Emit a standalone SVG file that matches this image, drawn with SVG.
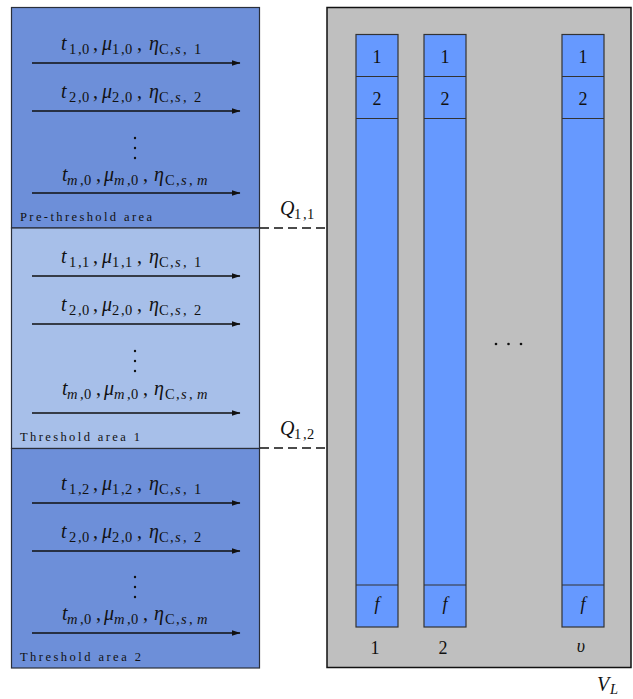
<svg xmlns="http://www.w3.org/2000/svg" width="633" height="699" viewBox="0 0 633 699">
  <style>
    .band-dark { fill: #6d8fd9; stroke: #2a2f3a; stroke-width: 1.2; }
    .band-light { fill: #a7bfe9; stroke: #2a2f3a; stroke-width: 1.2; }
    .store { fill: #bfbfbf; stroke: #111; stroke-width: 1.5; }
    .col { fill: #6699ff; stroke: #333; stroke-width: 1.2; }
    .div { stroke: #333; stroke-width: 1.2; }
    .m { font-family: "Liberation Serif", "DejaVu Serif", serif; font-size: 20px; fill: #111; }
    .i { font-style: italic; }
    .s { font-size: 14.5px; }
    .lbl { font-family: "Liberation Serif", "DejaVu Serif", serif; font-size: 12.5px; fill: #111; }
    .num { font-family: "Liberation Serif", "DejaVu Serif", serif; font-size: 18px; fill: #111; text-anchor: middle; }
    .flow { stroke: #111; stroke-width: 1.3; fill: none; marker-end: url(#head); }
    .dash { stroke: #111; stroke-width: 1.6; stroke-dasharray: 9 5; fill: none; }
  </style>
  <defs>
    <marker id="head" markerWidth="9" markerHeight="6" refX="8.5" refY="3" orient="auto" markerUnits="userSpaceOnUse">
      <path d="M0,0 L9,3 L0,6 Z" fill="#111"/>
    </marker>
  </defs>

  <!-- left panel: three areas -->
  <g id="pre-threshold">
    <rect class="band-dark" x="11.5" y="7.5" width="248" height="220.5"/>
    <text class="lbl" x="20" y="221" textLength="132" lengthAdjust="spacing">Pre-threshold area</text>
  </g>
  <g id="threshold-1">
    <rect class="band-light" x="11.5" y="228" width="248" height="220.5"/>
    <text class="lbl" x="20" y="441" textLength="120" lengthAdjust="spacing">Threshold area 1</text>
  </g>
  <g id="threshold-2">
    <rect class="band-dark" x="11.5" y="448.5" width="248" height="219.5"/>
    <text class="lbl" x="20" y="661" textLength="121" lengthAdjust="spacing">Threshold area 2</text>
  </g>

  <!-- storage: columns of cells -->
  <g id="storage">
    <rect class="store" x="327" y="7.5" width="304" height="660"/>
  </g>
  <g id="column-1">
    <rect class="col" x="356" y="34.5" width="42" height="592.5"/>
    <line class="div" x1="356" y1="76.5" x2="398" y2="76.5"/>
    <line class="div" x1="356" y1="118.5" x2="398" y2="118.5"/>
    <line class="div" x1="356" y1="585" x2="398" y2="585"/>
    <text class="num" x="377" y="63">1</text>
    <text class="num" x="377" y="105">2</text>
    <text class="num i" x="377" y="610">f</text>
    <text class="num" x="375" y="654">1</text>
  </g>
  <g id="column-2">
    <rect class="col" x="424" y="34.5" width="42" height="592.5"/>
    <line class="div" x1="424" y1="76.5" x2="466" y2="76.5"/>
    <line class="div" x1="424" y1="118.5" x2="466" y2="118.5"/>
    <line class="div" x1="424" y1="585" x2="466" y2="585"/>
    <text class="num" x="445" y="63">1</text>
    <text class="num" x="445" y="105">2</text>
    <text class="num i" x="445" y="610">f</text>
    <text class="num" x="443" y="654">2</text>
  </g>
  <g id="column-v">
    <rect class="col" x="562" y="34.5" width="42" height="592.5"/>
    <line class="div" x1="562" y1="76.5" x2="604" y2="76.5"/>
    <line class="div" x1="562" y1="118.5" x2="604" y2="118.5"/>
    <line class="div" x1="562" y1="585" x2="604" y2="585"/>
    <text class="num" x="583" y="63">1</text>
    <text class="num" x="583" y="105">2</text>
    <text class="num i" x="583" y="610">f</text>
    <text class="num i" x="581" y="652">υ</text>
  </g>
  <g id="column-ellipsis" fill="#111">
    <circle cx="496" cy="344" r="1.3"/>
    <circle cx="508.5" cy="344" r="1.3"/>
    <circle cx="521" cy="344" r="1.3"/>
  </g>
  <g id="storage-label">
    <text class="m" y="691"><tspan class="i" x="597">V</tspan><tspan class="s i" x="610" dy="3">L</tspan></text>
  </g>

  <!-- flow labels -->
  <g id="labels-pre">
    <text class="m" y="50"><tspan class="i" x="61">t</tspan><tspan class="s" x="69 78 82" dy="3.5">1,0</tspan><tspan x="93" dy="-3.5">,</tspan><tspan class="i" x="102">μ</tspan><tspan class="s" x="112 121 125" dy="3.5">1,0</tspan><tspan x="137" dy="-3.5">,</tspan><tspan class="i" x="149">η</tspan><tspan class="s" x="159 170" dy="3.5">C,</tspan><tspan class="s i" x="175">s</tspan><tspan class="s" x="183 194">,1</tspan></text>
    <text class="m" y="98"><tspan class="i" x="61">t</tspan><tspan class="s" x="69 78 82" dy="3.5">2,0</tspan><tspan x="93" dy="-3.5">,</tspan><tspan class="i" x="102">μ</tspan><tspan class="s" x="112 121 125" dy="3.5">2,0</tspan><tspan x="137" dy="-3.5">,</tspan><tspan class="i" x="149">η</tspan><tspan class="s" x="159 170" dy="3.5">C,</tspan><tspan class="s i" x="175">s</tspan><tspan class="s" x="183 194">,2</tspan></text>
    <g fill="#111"><circle cx="135" cy="138" r="1.2"/><circle cx="135" cy="148" r="1.2"/><circle cx="135" cy="158" r="1.2"/></g>
    <text class="m" y="181"><tspan class="i" x="62">t</tspan><tspan class="s i" x="67" dy="3.5">m</tspan><tspan class="s" x="80 84">,0</tspan><tspan x="96" dy="-3.5">,</tspan><tspan class="i" x="104">μ</tspan><tspan class="s i" x="114" dy="3.5">m</tspan><tspan class="s" x="127 131">,0</tspan><tspan x="143" dy="-3.5">,</tspan><tspan class="i" x="154">η</tspan><tspan class="s" x="165 176" dy="3.5">C,</tspan><tspan class="s i" x="181">s</tspan><tspan class="s" x="189">,</tspan><tspan class="s i" x="197">m</tspan></text>
  </g>
  <g id="labels-t1">
    <text class="m" y="263"><tspan class="i" x="61">t</tspan><tspan class="s" x="69 78 82" dy="3.5">1,1</tspan><tspan x="93" dy="-3.5">,</tspan><tspan class="i" x="102">μ</tspan><tspan class="s" x="112 121 125" dy="3.5">1,1</tspan><tspan x="137" dy="-3.5">,</tspan><tspan class="i" x="149">η</tspan><tspan class="s" x="159 170" dy="3.5">C,</tspan><tspan class="s i" x="175">s</tspan><tspan class="s" x="183 194">,1</tspan></text>
    <text class="m" y="311"><tspan class="i" x="61">t</tspan><tspan class="s" x="69 78 82" dy="3.5">2,0</tspan><tspan x="93" dy="-3.5">,</tspan><tspan class="i" x="102">μ</tspan><tspan class="s" x="112 121 125" dy="3.5">2,0</tspan><tspan x="137" dy="-3.5">,</tspan><tspan class="i" x="149">η</tspan><tspan class="s" x="159 170" dy="3.5">C,</tspan><tspan class="s i" x="175">s</tspan><tspan class="s" x="183 194">,2</tspan></text>
    <g fill="#111"><circle cx="135" cy="351" r="1.2"/><circle cx="135" cy="361" r="1.2"/><circle cx="135" cy="371" r="1.2"/></g>
    <text class="m" y="395"><tspan class="i" x="62">t</tspan><tspan class="s i" x="67" dy="3.5">m</tspan><tspan class="s" x="80 84">,0</tspan><tspan x="96" dy="-3.5">,</tspan><tspan class="i" x="104">μ</tspan><tspan class="s i" x="114" dy="3.5">m</tspan><tspan class="s" x="127 131">,0</tspan><tspan x="143" dy="-3.5">,</tspan><tspan class="i" x="154">η</tspan><tspan class="s" x="165 176" dy="3.5">C,</tspan><tspan class="s i" x="181">s</tspan><tspan class="s" x="189">,</tspan><tspan class="s i" x="197">m</tspan></text>
  </g>
  <g id="labels-t2">
    <text class="m" y="490"><tspan class="i" x="61">t</tspan><tspan class="s" x="69 78 82" dy="3.5">1,2</tspan><tspan x="93" dy="-3.5">,</tspan><tspan class="i" x="102">μ</tspan><tspan class="s" x="112 121 125" dy="3.5">1,2</tspan><tspan x="137" dy="-3.5">,</tspan><tspan class="i" x="149">η</tspan><tspan class="s" x="159 170" dy="3.5">C,</tspan><tspan class="s i" x="175">s</tspan><tspan class="s" x="183 194">,1</tspan></text>
    <text class="m" y="538"><tspan class="i" x="61">t</tspan><tspan class="s" x="69 78 82" dy="3.5">2,0</tspan><tspan x="93" dy="-3.5">,</tspan><tspan class="i" x="102">μ</tspan><tspan class="s" x="112 121 125" dy="3.5">2,0</tspan><tspan x="137" dy="-3.5">,</tspan><tspan class="i" x="149">η</tspan><tspan class="s" x="159 170" dy="3.5">C,</tspan><tspan class="s i" x="175">s</tspan><tspan class="s" x="183 194">,2</tspan></text>
    <g fill="#111"><circle cx="135" cy="577" r="1.2"/><circle cx="135" cy="587" r="1.2"/><circle cx="135" cy="597" r="1.2"/></g>
    <text class="m" y="620"><tspan class="i" x="62">t</tspan><tspan class="s i" x="67" dy="3.5">m</tspan><tspan class="s" x="80 84">,0</tspan><tspan x="96" dy="-3.5">,</tspan><tspan class="i" x="104">μ</tspan><tspan class="s i" x="114" dy="3.5">m</tspan><tspan class="s" x="127 131">,0</tspan><tspan x="143" dy="-3.5">,</tspan><tspan class="i" x="154">η</tspan><tspan class="s" x="165 176" dy="3.5">C,</tspan><tspan class="s i" x="181">s</tspan><tspan class="s" x="189">,</tspan><tspan class="s i" x="197">m</tspan></text>
  </g>
  <g id="threshold-labels">
    <text class="m" y="215"><tspan class="i" x="280">Q</tspan><tspan class="s" x="294 303 307" dy="3.5">1,1</tspan></text>
    <text class="m" y="435"><tspan class="i" x="280">Q</tspan><tspan class="s" x="294 303 307" dy="3.5">1,2</tspan></text>
  </g>

  <!-- connectors -->
  <g id="connectors">
    <line class="flow" x1="32" y1="63" x2="240" y2="63"/>
    <line class="flow" x1="32" y1="111" x2="240" y2="111"/>
    <line class="flow" x1="32" y1="193" x2="240" y2="193"/>
    <line class="flow" x1="32" y1="276" x2="240" y2="276"/>
    <line class="flow" x1="32" y1="324" x2="240" y2="324"/>
    <line class="flow" x1="32" y1="413" x2="240" y2="413"/>
    <line class="flow" x1="32" y1="503" x2="240" y2="503"/>
    <line class="flow" x1="32" y1="551" x2="240" y2="551"/>
    <line class="flow" x1="32" y1="633" x2="240" y2="633"/>
    <line class="dash" x1="260" y1="228" x2="327" y2="228"/>
    <line class="dash" x1="260" y1="448" x2="327" y2="448"/>
  </g>
</svg>
